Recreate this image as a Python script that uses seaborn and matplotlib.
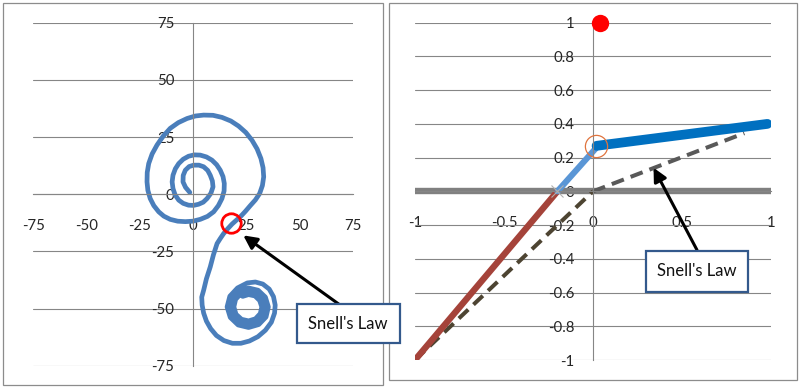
import numpy as np
import matplotlib
matplotlib.use("Agg")
import matplotlib.pyplot as plt
from matplotlib.patches import Rectangle
import seaborn as sns

# ---- left chart: the refracted spiral curve ----
spiral_x = [-1.5, -3.5, -4.7, -4.6, -3.6, -1.8, 0.3, 2.8, 5.0, 6.9, 8.1, 9.1, 9.4, 8.4, 6.6, 4.8, 2.6, 0.2,
            -2.1, -4.6, -6.7, -8.4, -9.4, -9.8, -9.4, -8.3, -6.7, -4.6, -2.1, 0.6, 3.4, 6.3, 8.9, 11.1,
            12.8, 14.1, 14.7, 14.6, 13.6, 11.9, 9.7, 6.8, 3.4, -0.1, -3.6, -7.2, -10.7, -13.7, -16.1,
            -18.4, -20.1, -21.2, -21.6, -21.5, -20.8, -19.2, -16.9, -14.0, -10.7, -6.9, -2.8, 1.1, 5.0,
            9.4, 13.6, 17.8, 21.4, 24.8, 27.7, 30.1, 31.9, 32.9, 33.2, 32.6, 31.3, 29.3, 26.9, 24.6,
            22.2, 20.2, 18.3, 16.3, 14.4, 12.8, 11.3, 9.6, 8.1, 6.3, 5.0, 4.1, 4.3, 5.0, 6.3, 8.3, 11.0,
            14.5, 18.5, 22.5, 26.5, 30.5, 34.0, 36.8, 38.3, 38.6, 37.8, 35.8, 32.8, 29.3, 25.5,
            20.9, 17.3, 16.0, 17.5, 21.2, 26.1, 30.9, 34.3, 35.4, 34.0, 30.6, 26.1,
            21.7, 18.6, 17.6, 18.9, 22.0, 26.1, 30.1, 32.9, 33.8, 32.7, 29.8, 26.1,
            22.5, 20.0, 19.2, 20.2, 22.8, 26.1, 29.3, 31.6, 32.3, 31.3, 29.1, 26.1, 23.3]
spiral_y = [0.8, 3.0, 5.4, 8.2, 10.5, 12.1, 12.7, 12.7, 12.0, 10.4, 8.3, 5.8, 3.2, 0.4, -1.9, -3.5, -4.4, -4.9,
            -4.8, -4.0, -2.6, -0.3, 2.5, 5.4, 8.3, 11.1, 13.4, 15.3, 16.6, 17.2, 17.1, 16.3, 14.9, 12.9,
            10.5, 7.7, 4.7, 1.4, -1.9, -5.0, -7.7, -9.7, -11.0, -11.8, -12.0, -11.8, -11.0, -9.6, -7.7,
            -5.0, -1.9, 1.7, 5.4, 9.5, 13.4, 17.6, 21.5, 25.4, 28.8, 31.3, 33.1, 34.2, 34.6,
            34.5, 33.6, 32.0, 29.8, 27.0, 23.6, 19.8, 15.6, 11.6, 7.6, 3.8, 0.3, -2.5, -5.0, -7.5,
            -9.9, -11.5, -13.1, -15.1, -17.2, -19.4, -21.6, -26.5, -31.8, -37.0, -42.0, -45.0, -48.5, -52.0, -55.5, -58.8, -61.8,
            -64.0, -65.2, -65.2, -64.2, -62.3, -59.5, -56.0, -52.0, -48.5, -44.8, -41.5, -39.3, -38.4, -38.8,
            -41.0, -44.6, -49.3, -53.9, -57.2, -58.3, -57.0, -53.7, -49.3, -45.0, -42.0, -41.0,
            -42.2, -45.3, -49.3, -53.2, -56.0, -56.9, -55.7, -53.0, -49.3, -45.8, -43.3, -42.5,
            -43.5, -46.0, -49.3, -52.5, -54.7, -55.4, -54.5, -52.2, -49.3, -46.5, -44.5, -43.9, -44.7]
snell_point_left = (18.0, -12.8)
left_ticks = [-75, -50, -25, 0, 25, 50, 75]
left_labels = ["-75", "-50", "-25", "0", "25", "50", "75"]

# ---- right chart: ray through the interface ----
interface_x = [-1, 1]
interface_y = [0, 0]
incident_x = [-1, -0.2]
incident_y = [-1, 0]
refract1_x = [-0.2, 0.02]
refract1_y = [0, 0.26]
refract2_x = [0.02, 0.98]
refract2_y = [0.27, 0.40]
straight_x = [-1, 0]
straight_y = [-1, 0]
snell_x = [0, 0.85]
snell_y = [0, 0.345]
source_pt = (0.04, 1.0)
hit_pt = (-0.2, 0.0)
kink_pt = (0.015, 0.27)
arrow_tip_right = (0.34, 0.14)
right_xticks = [-1, -0.5, 0, 0.5, 1]
right_xlabels = ["-1", "-0.5", "0", "0.5", "1"]
right_yticks = [-1, -0.8, -0.6, -0.4, -0.2, 0, 0.2, 0.4, 0.6, 0.8, 1]
right_ylabels = ["-1", "-0.8", "-0.6", "-0.4", "-0.2", "0", "0.2", "0.4", "0.6", "0.8", "1"]

sns.set_style("white")
plt.rcParams["font.family"] = ["Lato", "DejaVu Sans"]
plt.rcParams["axes.unicode_minus"] = False

W, H = 800, 389
fig = plt.figure(figsize=(W / 100, H / 100), dpi=100)
grid_c = "#868686"


def fig_rect(x0, y0, x1, y1, **kw):
    # pixel box (top-left origin) -> figure fraction rectangle
    r = Rectangle((x0 / W, 1 - y1 / H), (x1 - x0) / W, (y1 - y0) / H,
                  transform=fig.transFigure, **kw)
    fig.add_artist(r)
    return r


def excel_axes(ax, xt, xl, yt, yl):
    for s in ["top", "right"]:
        ax.spines[s].set_visible(False)
    ax.spines["left"].set_position(("data", 0))
    ax.spines["bottom"].set_position(("data", 0))
    for s in ["left", "bottom"]:
        ax.spines[s].set_color(grid_c)
        ax.spines[s].set_linewidth(0.8)
    ax.set_xticks(xt)
    ax.set_xticklabels(xl)
    ax.set_yticks(yt)
    ax.set_yticklabels(yl)
    ax.tick_params(axis="x", direction="out", length=3.5, width=0.8, color=grid_c, pad=14, labelsize=10.8)
    ax.tick_params(axis="y", direction="out", length=3.5, width=0.8, color=grid_c, pad=10, labelsize=10.8)
    ax.grid(axis="y", color=grid_c, linewidth=0.8)
    ax.grid(axis="x", visible=False)
    ax.set_axisbelow(True)
    ax.set_xlabel("")
    ax.set_ylabel("")
    ax.patch.set_alpha(0)


# panel frames
fig_rect(3, 3, 383, 385, fill=False, edgecolor="#8C8C8C", linewidth=0.9, zorder=1)
fig_rect(389, 3, 797, 380, fill=False, edgecolor="#8C8C8C", linewidth=0.9, zorder=1)

# ---- left ----
axl = fig.add_axes([33.3 / W, 1 - 365.7 / H, 319.4 / W, 343 / H])
sns.lineplot(x=spiral_x, y=spiral_y, ax=axl, sort=False, estimator=None, color="#4A7EBB",
             linewidth=3.4, solid_capstyle="round", solid_joinstyle="round")
axl.plot(*snell_point_left, marker="o", markersize=14, markerfacecolor="none",
         markeredgecolor="#FF0000", markeredgewidth=2.0, zorder=5)
axl.set_xlim(-75, 75)
axl.set_ylim(-75, 75)
excel_axes(axl, left_ticks, left_labels, left_ticks, left_labels)
axl.annotate("", xy=(23.6, -18.0), xycoords="data", xytext=(340, H - 305), textcoords="figure pixels",
             arrowprops=dict(arrowstyle="-|>", color="black", lw=2.2, mutation_scale=20,
                             shrinkA=0, shrinkB=0), annotation_clip=False)

# ---- right ----
axr = fig.add_axes([415 / W, 1 - 360 / H, 356 / W, 337.3 / H])
sns.lineplot(x=interface_x, y=interface_y, ax=axr, sort=False, estimator=None, color="#808080",
             linewidth=4.6, solid_capstyle="butt")
sns.lineplot(x=straight_x, y=straight_y, ax=axr, sort=False, estimator=None, color="#4D4432",
             linewidth=2.9, linestyle=(0, (3.2, 1.8)))
sns.lineplot(x=snell_x, y=snell_y, ax=axr, sort=False, estimator=None, color="#595959",
             linewidth=2.9, linestyle=(0, (3.2, 1.8)))
sns.lineplot(x=incident_x, y=incident_y, ax=axr, sort=False, estimator=None, color="#A5433A",
             linewidth=4.6, solid_capstyle="butt")
sns.lineplot(x=refract1_x, y=refract1_y, ax=axr, sort=False, estimator=None, color="#5A96D6",
             linewidth=4.4, solid_capstyle="round")
sns.lineplot(x=refract2_x, y=refract2_y, ax=axr, sort=False, estimator=None, color="#0070C0",
             linewidth=7.0, solid_capstyle="round")
axr.plot(*hit_pt, marker="x", markersize=9, markeredgecolor="#B0B0B0", markeredgewidth=0.8, zorder=6)
axr.plot(*kink_pt, marker="o", markersize=16, markerfacecolor="none",
         markeredgecolor="#E0743E", markeredgewidth=0.9, zorder=6)
axr.plot(*source_pt, marker="o", markersize=12.5, color="#FF0000", markeredgewidth=0, zorder=6,
         clip_on=False)
axr.set_xlim(-1, 1)
axr.set_ylim(-1, 1)
excel_axes(axr, right_xticks, right_xlabels, right_yticks, right_ylabels)
axr.annotate("", xy=arrow_tip_right, xycoords="data", xytext=(697, H - 250), textcoords="figure pixels",
             arrowprops=dict(arrowstyle="-|>", color="black", lw=2.2, mutation_scale=20,
                             shrinkA=0, shrinkB=0), annotation_clip=False)

# callout boxes
box_c = "#33598C"
fig_rect(297, 304, 400, 343, facecolor="white", edgecolor=box_c, linewidth=1.6, zorder=3)
fig.text(308 / W, 1 - 324 / H, "Snell's Law", ha="left", va="center", fontsize=12, color="#111111", zorder=4)
fig_rect(646, 251, 748, 292, facecolor="white", edgecolor=box_c, linewidth=1.6, zorder=3)
fig.text(657 / W, 1 - 271 / H, "Snell's Law", ha="left", va="center", fontsize=12, color="#111111", zorder=4)

fig.savefig("out.png", dpi=100)
